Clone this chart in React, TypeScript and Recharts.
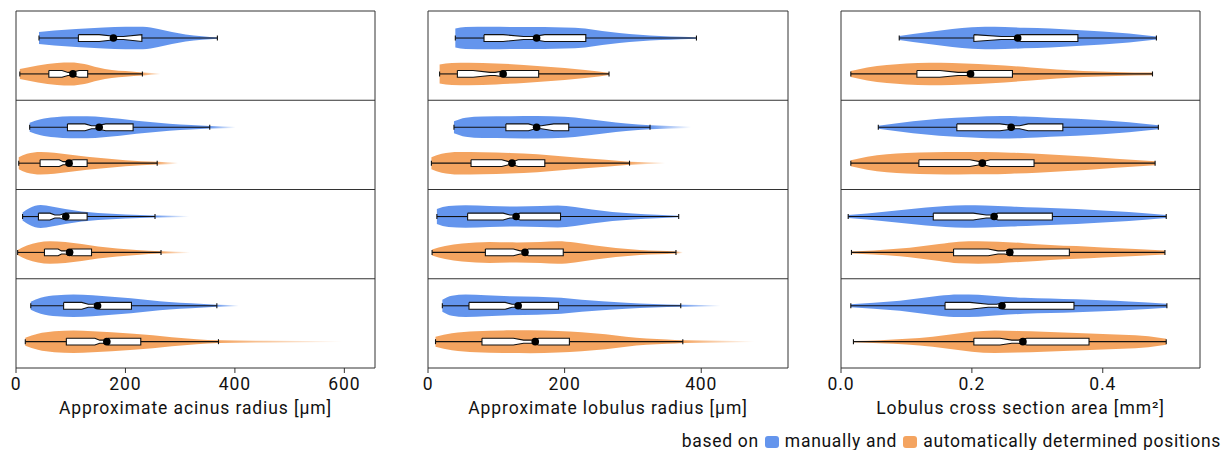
import React from 'react';
import { ComposedChart, Area, Line, Scatter, XAxis, YAxis, ReferenceLine } from 'recharts';

const BLUE = '#6495ED';
const ORANGE = '#F4A460';

const groups = ['Group 1', 'Group 2', 'Group 3', 'Group 4'];

// stats per group: [whiskerLow, q1, notchStart, waistStart, waistEnd, notchEnd, q3, whiskerHigh]
// ---------- Panel 1: acinus radius [µm]
const acinusManualStats = [
  [42, 114, 152, 184, 196, 230, 230, 368],
  [25, 94, 126, 138, 147, 164, 214, 354],
  [12, 41, 62, 71, 80, 91, 130, 254],
  [27, 87, 120, 132, 141, 153, 211, 367],
];
const acinusManualMean = [178, 152, 91, 149];
const acinusManualDensity = [
  [[42, 6], [70, 7.5], [110, 9], [160, 10.5], [200, 11.2], [232, 11.3], [260, 9], [285, 6], [310, 3.5], [340, 1.8], [368, 0.6]],
  [[25, 4.5], [45, 8], [70, 10], [100, 11], [130, 11], [160, 10], [190, 8.5], [220, 6.5], [250, 5], [280, 3.5], [320, 2.2], [354, 1.3], [401, 0.6]],
  [[12, 4], [25, 8.5], [45, 11.5], [65, 10], [90, 7.5], [120, 5], [150, 3.5], [200, 2], [254, 1], [316, 0.5]],
  [[27, 4], [45, 8], [75, 10.5], [105, 11.2], [140, 10.5], [175, 9], [210, 7.5], [245, 5.5], [280, 3.8], [320, 2.5], [367, 1], [407, 0.5]],
];
const acinusAutoStats = [
  [7, 60, 84, 95, 102, 115, 131, 231],
  [5, 44, 79, 86, 91, 105, 130, 258],
  [3, 52, 77, 83, 90, 102, 138, 265],
  [17, 92, 144, 153, 159, 169, 228, 370],
];
const acinusAutoMean = [104, 97, 98, 166];
const acinusAutoDensity = [
  [[7, 5], [40, 8.5], [75, 11], [100, 11.5], [125, 10], [150, 6.5], [175, 4], [200, 2.8], [231, 1.5], [264, 0.7]],
  [[5, 6], [20, 9.5], [45, 11.3], [70, 10.5], [100, 8.5], [130, 6.5], [160, 5], [200, 3], [258, 1.4], [296, 0.6]],
  [[3, 2.5], [20, 7], [40, 10], [62, 11.3], [90, 10.5], [120, 8.5], [150, 6], [185, 4], [220, 2.5], [265, 1.2], [318, 0.5]],
  [[17, 4], [40, 8], [70, 10.5], [105, 11.3], [140, 10.5], [175, 9.5], [215, 8], [250, 6.5], [285, 4.5], [330, 2.5], [370, 1.3], [460, 0.8], [596, 0.4]],
];

// ---------- Panel 2: lobulus radius [µm]
const lobulusManualStats = [
  [40, 82, 110, 140, 154, 171, 231, 393],
  [38, 114, 147, 157, 166, 184, 206, 325],
  [13, 58, 110, 120, 125, 135, 194, 367],
  [21, 60, 113, 123, 128, 137, 191, 370],
];
const lobulusManualMean = [159, 159, 129, 132];
const lobulusManualDensity = [
  [[40, 9.5], [55, 11], [90, 11.3], [130, 11], [170, 11], [200, 10.5], [230, 9.5], [255, 7], [280, 5], [310, 3.2], [340, 2], [370, 1.2], [393, 0.6]],
  [[38, 6], [55, 9.5], [80, 10.8], [120, 11], [160, 11.3], [200, 10.5], [230, 8.5], [260, 6], [290, 3.8], [325, 2], [385, 0.7]],
  [[13, 7.5], [30, 10.5], [55, 11.2], [90, 10.5], [130, 10], [165, 10.5], [190, 11], [215, 9.5], [240, 7], [270, 4.5], [300, 3], [335, 1.8], [367, 0.8]],
  [[21, 6], [35, 10], [55, 11.2], [85, 10.5], [120, 9.5], [160, 9], [195, 8], [225, 6], [255, 4.5], [290, 3], [330, 1.8], [370, 1], [428, 0.5]],
];
const lobulusAutoStats = [
  [17, 43, 66, 91, 98, 115, 162, 265],
  [5, 63, 108, 118, 124, 132, 171, 295],
  [6, 84, 125, 135, 141, 147, 198, 363],
  [11, 79, 125, 140, 152, 162, 207, 373],
];
const lobulusAutoMean = [110, 123, 142, 157];
const lobulusAutoDensity = [
  [[17, 9.5], [35, 11], [60, 11.3], [100, 10.5], [140, 9], [170, 7.5], [200, 6], [230, 4], [250, 2.5], [265, 1.2]],
  [[5, 6], [20, 9.5], [45, 11.3], [80, 11], [120, 10.3], [160, 9], [195, 7], [230, 5], [260, 3.5], [295, 1.5], [347, 0.6]],
  [[6, 3], [25, 6.5], [50, 9], [90, 10.5], [130, 10], [165, 10.5], [190, 11.3], [215, 10], [245, 7], [275, 4.5], [310, 2.5], [363, 1], [373, 0.5]],
  [[11, 5], [35, 8.5], [70, 10.5], [110, 11.3], [150, 11.5], [190, 10.8], [225, 9.5], [260, 7.5], [290, 5], [320, 3.2], [350, 2.2], [373, 1.3], [430, 0.8], [478, 0.4]],
];

// ---------- Panel 3: lobulus cross section area [mm²]
const areaManualStats = [
  [0.089, 0.203, 0.203, 0.245, 0.266, 0.275, 0.362, 0.482],
  [0.057, 0.177, 0.243, 0.266, 0.273, 0.286, 0.339, 0.485],
  [0.011, 0.141, 0.202, 0.222, 0.23, 0.24, 0.323, 0.497],
  [0.015, 0.159, 0.197, 0.225, 0.238, 0.25, 0.356, 0.498],
];
const areaManualMean = [0.27, 0.26, 0.234, 0.246];
const areaManualDensity = [
  [[0.089, 2], [0.11, 4], [0.14, 6.5], [0.17, 9], [0.2, 10.8], [0.22, 11.3], [0.25, 11], [0.28, 10.3], [0.32, 9.5], [0.36, 8], [0.4, 6.5], [0.44, 4.5], [0.482, 1.5]],
  [[0.057, 1.5], [0.08, 3.5], [0.11, 6], [0.15, 8.5], [0.2, 10.3], [0.245, 11.3], [0.28, 10.8], [0.32, 9.5], [0.36, 8.5], [0.4, 7], [0.44, 5], [0.485, 2]],
  [[0.011, 1.5], [0.04, 3], [0.07, 5], [0.1, 7], [0.13, 9], [0.16, 10.5], [0.19, 11.3], [0.22, 11], [0.26, 10], [0.3, 9], [0.34, 8], [0.38, 6.8], [0.42, 5.3], [0.46, 3.5], [0.497, 1.5]],
  [[0.015, 1.5], [0.05, 3], [0.09, 5], [0.12, 7.5], [0.15, 10], [0.18, 11.3], [0.21, 11], [0.24, 9.5], [0.28, 8], [0.32, 7.3], [0.36, 6.5], [0.4, 5.5], [0.44, 4.3], [0.498, 2]],
];
const areaAutoStats = [
  [0.015, 0.116, 0.151, 0.179, 0.192, 0.203, 0.262, 0.476],
  [0.015, 0.119, 0.197, 0.212, 0.217, 0.228, 0.295, 0.48],
  [0.016, 0.172, 0.225, 0.24, 0.25, 0.263, 0.349, 0.495],
  [0.019, 0.203, 0.243, 0.261, 0.271, 0.284, 0.379, 0.497],
];
const areaAutoMean = [0.198, 0.216, 0.258, 0.278];
const areaAutoDensity = [
  [[0.015, 3], [0.04, 6.5], [0.07, 9], [0.1, 10.5], [0.135, 11.3], [0.17, 11], [0.21, 10], [0.25, 8.5], [0.29, 6.5], [0.33, 4.5], [0.37, 3], [0.42, 2], [0.476, 1.3]],
  [[0.015, 3], [0.04, 6.5], [0.07, 9], [0.1, 10.3], [0.14, 11], [0.18, 11.3], [0.22, 11.2], [0.26, 10.5], [0.3, 9.5], [0.34, 8], [0.38, 6.5], [0.42, 4.5], [0.48, 2]],
  [[0.016, 1], [0.05, 2], [0.09, 3.8], [0.12, 6], [0.15, 8.5], [0.18, 10.8], [0.21, 11.3], [0.24, 10.8], [0.28, 9.3], [0.32, 7.5], [0.36, 6.3], [0.4, 5], [0.45, 3.5], [0.495, 2]],
  [[0.019, 0.6], [0.06, 1.5], [0.1, 2.8], [0.14, 5], [0.17, 7.5], [0.2, 10], [0.235, 11.3], [0.27, 10.8], [0.31, 10], [0.35, 9], [0.39, 8], [0.43, 7], [0.47, 5.5], [0.497, 3]],
];

const acinusTicks = [0, 200, 400, 600];
const lobulusTicks = [0, 200, 400];
const areaTicks = [0, 0.2, 0.4];

// geometry (y axis units: one group row = 1)
const MANUAL_OFFSET = 0.303;
const AUTO_OFFSET = 0.705;
const DENS = 0.0112;
const BOX = 0.038;
const WAIST = 0.017;
const CAP = 0.028;
const INK = '#111';
const FRAME = '#333';
const FONT_SIZE = 17.5;
const SPACING = 0.9;

type Stats = number[][];
type Dens = number[][][];

const MeanDot = (p: any) => <circle cx={p.cx} cy={p.cy} r={3.8} fill="#000" />;

function gradients(key: string, color: string, stats: Stats, dens: Dens) {
  return stats.map((s, i) => {
    const d = dens[i];
    const xmin = d[0][0];
    const xmax = d[d.length - 1][0];
    const hi = s[7];
    const f = Math.min(1, (hi - xmin) / (xmax - xmin));
    return (
      <linearGradient key={`${key}-g${i}`} id={`${key}-g${i}`} x1="0" y1="0" x2="1" y2="0">
        <stop offset={0} stopColor={color} stopOpacity={1} />
        <stop offset={f} stopColor={color} stopOpacity={1} />
        <stop offset={1} stopColor={color} stopOpacity={0} />
      </linearGradient>
    );
  });
}

function violins(key: string, stats: Stats, dens: Dens, offset: number) {
  return stats.map((s, i) => {
    const c = i + offset;
    const data = dens[i].map(([x, w]) => ({ x, y: [c - w * DENS, c + w * DENS] }));
    return (
      <Area
        key={`${key}-v${i}`}
        name={`${groups[i]} ${key}`}
        data={data}
        dataKey="y"
        type="monotone"
        stroke="none"
        fill={`url(#${key}-g${i})`}
        fillOpacity={1}
        dot={false}
        activeDot={false}
        isAnimationActive={false}
        legendType="none"
      />
    );
  });
}

function boxes(key: string, stats: Stats, means: number[], offset: number) {
  const out: React.ReactNode[] = [];
  stats.forEach((s, i) => {
    const [lo, q1, t1, w1, w2, t2, q3, hi] = s;
    const c = i + offset;
    const fillData = [
      { x: q1, y: [c - BOX, c + BOX] },
      { x: t1, y: [c - BOX, c + BOX] },
      { x: w1, y: [c - WAIST, c + WAIST] },
      { x: w2, y: [c - WAIST, c + WAIST] },
      { x: t2, y: [c - BOX, c + BOX] },
      { x: q3, y: [c - BOX, c + BOX] },
    ];
    const outline = [
      { x: q1, y: c - BOX }, { x: t1, y: c - BOX }, { x: w1, y: c - WAIST }, { x: w2, y: c - WAIST },
      { x: t2, y: c - BOX }, { x: q3, y: c - BOX }, { x: q3, y: c + BOX }, { x: t2, y: c + BOX },
      { x: w2, y: c + WAIST }, { x: w1, y: c + WAIST }, { x: t1, y: c + BOX }, { x: q1, y: c + BOX },
      { x: q1, y: c - BOX },
    ];
    const common = { dot: false, activeDot: false, isAnimationActive: false, legendType: 'none' as const, type: 'linear' as const };
    out.push(<Line key={`${key}-wl${i}`} {...common} data={[{ x: lo, y: c }, { x: q1, y: c }]} dataKey="y" stroke={INK} strokeWidth={1.1} />);
    out.push(<Line key={`${key}-wh${i}`} {...common} data={[{ x: q3, y: c }, { x: hi, y: c }]} dataKey="y" stroke={INK} strokeWidth={1.1} />);
    out.push(<Line key={`${key}-cl${i}`} {...common} data={[{ x: lo, y: c - CAP }, { x: lo, y: c + CAP }]} dataKey="y" stroke={INK} strokeWidth={1.1} />);
    out.push(<Line key={`${key}-ch${i}`} {...common} data={[{ x: hi, y: c - CAP }, { x: hi, y: c + CAP }]} dataKey="y" stroke={INK} strokeWidth={1.1} />);
    out.push(
      <Area key={`${key}-bf${i}`} data={fillData} dataKey="y" type="linear" stroke="none" fill="#fff" fillOpacity={1}
        dot={false} activeDot={false} isAnimationActive={false} legendType="none" />
    );
    out.push(<Line key={`${key}-bo${i}`} {...common} data={outline} dataKey="y" stroke={INK} strokeWidth={1.1} />);
    out.push(
      <Scatter key={`${key}-m${i}`} data={[{ x: means[i], y: c }]} dataKey="y" shape={MeanDot}
        isAnimationActive={false} legendType="none" />
    );
  });
  return out;
}

type PanelProps = {
  id: string;
  left: number;
  width: number;
  marginLeft: number;
  marginRight: number;
  domainMax: number;
  ticks: number[];
  title: string;
  fmt?: (v: number) => string;
  manualStats: Stats; manualMean: number[]; manualDens: Dens;
  autoStats: Stats; autoMean: number[]; autoDens: Dens;
};

function Panel(p: PanelProps) {
  return (
    <div style={{ position: 'absolute', left: p.left, top: 0 }}>
      <ComposedChart
        width={p.width}
        height={450}
        margin={{ top: 11, left: p.marginLeft, right: p.marginRight, bottom: 32 }}
      >
        <defs>
          {gradients(`${p.id}m`, BLUE, p.manualStats, p.manualDens)}
          {gradients(`${p.id}a`, ORANGE, p.autoStats, p.autoDens)}
        </defs>
        <XAxis
          dataKey="x"
          type="number"
          domain={[0, p.domainMax]}
          allowDataOverflow
          ticks={p.ticks}
          interval={0}
          tickFormatter={p.fmt}
          height={50}
          tickSize={5}
          tickMargin={5}
          stroke={FRAME}
          tick={{ fill: INK, fontSize: FONT_SIZE, letterSpacing: SPACING }}
          label={{ value: p.title, position: 'insideBottom', offset: 4, fill: INK, fontSize: FONT_SIZE, letterSpacing: SPACING }}
        />
        <YAxis type="number" domain={[0, 4]} reversed hide allowDataOverflow />
        {violins(`${p.id}m`, p.manualStats, p.manualDens, MANUAL_OFFSET)}
        {violins(`${p.id}a`, p.autoStats, p.autoDens, AUTO_OFFSET)}
        {boxes(`${p.id}m`, p.manualStats, p.manualMean, MANUAL_OFFSET)}
        {boxes(`${p.id}a`, p.autoStats, p.autoMean, AUTO_OFFSET)}
        <ReferenceLine y={0} stroke={FRAME} ifOverflow="visible" />
        <ReferenceLine y={1} stroke={FRAME} ifOverflow="visible" />
        <ReferenceLine y={2} stroke={FRAME} ifOverflow="visible" />
        <ReferenceLine y={3} stroke={FRAME} ifOverflow="visible" />
        <ReferenceLine x={0} stroke={FRAME} ifOverflow="visible" />
        <ReferenceLine x={p.domainMax} stroke={FRAME} ifOverflow="visible" />
      </ComposedChart>
    </div>
  );
}

const swatch = (color: string): React.CSSProperties => ({
  display: 'inline-block',
  width: 14,
  height: 12.5,
  borderRadius: 3,
  background: color,
  verticalAlign: '-1px',
  margin: '0 1px',
});

export default function App() {
  return (
    <div style={{ position: 'absolute', left: 0, top: 0, width: 1223, height: 450, background: '#fff', fontFamily: 'Roboto, sans-serif' }}>
      <Panel id="p1" left={0} width={400} marginLeft={16} marginRight={25} domainMax={656} ticks={acinusTicks}
        title="Approximate acinus radius [µm]"
        manualStats={acinusManualStats} manualMean={acinusManualMean} manualDens={acinusManualDensity}
        autoStats={acinusAutoStats} autoMean={acinusAutoMean} autoDens={acinusAutoDensity} />
      <Panel id="p2" left={410} width={400} marginLeft={18} marginRight={22} domainMax={527} ticks={lobulusTicks}
        title="Approximate lobulus radius [µm]"
        manualStats={lobulusManualStats} manualMean={lobulusManualMean} manualDens={lobulusManualDensity}
        autoStats={lobulusAutoStats} autoMean={lobulusAutoMean} autoDens={lobulusAutoDensity} />
      <Panel id="p3" left={820} width={403} marginLeft={21} marginRight={23} domainMax={0.5486} ticks={areaTicks}
        fmt={(v: number) => v.toFixed(1)}
        title="Lobulus cross section area [mm²]"
        manualStats={areaManualStats} manualMean={areaManualMean} manualDens={areaManualDensity}
        autoStats={areaAutoStats} autoMean={areaAutoMean} autoDens={areaAutoDensity} />
      <div style={{ position: 'absolute', right: 2, top: 433, fontSize: FONT_SIZE, lineHeight: '16px', letterSpacing: 0.7, color: INK, whiteSpace: 'nowrap' }}>
        based on <span style={swatch(BLUE)} /> manually and <span style={swatch(ORANGE)} /> automatically determined positions
      </div>
    </div>
  );
}
